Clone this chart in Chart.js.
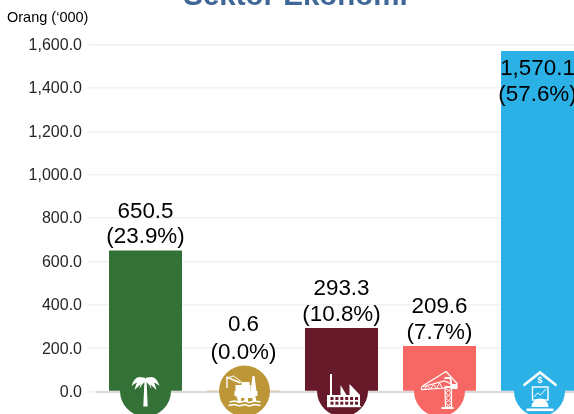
<!DOCTYPE html>
<html><head><meta charset="utf-8">
<style>html,body{margin:0;padding:0;background:#fff;overflow:hidden;width:574px;height:414px}
#w{position:relative;width:600px;height:414px}canvas{display:block}</style>
<script src="https://cdn.jsdelivr.net/npm/chart.js@4"></script></head>
<body><div id="w"><canvas id="c" width="600" height="414"></canvas></div>
<script>
const categories=["Pertanian","Perlombongan","Pembuatan","Pembinaan","Perkhidmatan"];
const values=[650.5,0.6,293.3,209.6,1570.1];
const shares=["23.9","0.0","10.8","7.7","57.6"];
const colours=["#337137","#BC9637","#671A29","#F76865","#2BB1E6"];
const badgeShift=[0,1,1,0,2];
const tickStep=200, tickMax=1600;
const titleText="Sektor Ekonomi", unitText="Orang (‘000)";
const FONT='"Liberation Sans",Arial,sans-serif';

function line(c,pts,w){c.lineWidth=w;c.beginPath();pts.forEach((p,i)=>i?c.lineTo(p[0],p[1]):c.moveTo(p[0],p[1]));c.stroke();}
function rect(c,x,y,w,h){c.fillRect(x,y,w,h);}
const icons=[
function palm(c){
  c.beginPath();c.moveTo(-1,-12);c.lineTo(1,-12);c.lineTo(2.2,15.5);c.lineTo(-2.2,15.5);c.closePath();c.fill();
  [[-14,-5,-10,-18],[-11,-1,-7,-17],[-6,-2,-3,-18],[14,-5,10,-18],[11,-1,7,-17],[6,-2,3,-18]].forEach(f=>{
    c.beginPath();c.moveTo(0,-12);c.quadraticCurveTo(f[2],f[3],f[0],f[1]);c.quadraticCurveTo(f[0]*.6,f[1]-5,0,-10);c.closePath();c.fill();});
},
function rig(c){
  rect(c,-10,0,23,5);rect(c,-8,5,19,2);rect(c,-7,7,3.5,4);rect(c,0,7,3.5,4);rect(c,8,7,3.5,4);
  rect(c,-9,-6,15,6);rect(c,-3,-9,8,3);
  c.beginPath();c.moveTo(8,-15);c.lineTo(10,-15);c.lineTo(12,0);c.lineTo(6,0);c.closePath();c.fill();
  line(c,[[-17.5,-14],[-17.5,-3]],1.4);line(c,[[-18,-14],[-4,-8]],1.5);line(c,[[-18,-13],[-11,-15],[-3,-9]],1);
  line(c,[[-15,11],[-10,10],[-5,11.5],[0,10],[5,11.5],[10,10],[16,11]],1.5);
  line(c,[[-16,14.5],[-10,13.5],[-5,15],[0,13.5],[5,15],[10,13.5],[16,14.5]],1.5);
},
function factory(c){
  rect(c,-12.5,-17,2,21);rect(c,-15.5,4,33,11);rect(c,-15.5,15,34,1.2);
  c.beginPath();c.moveTo(-15.5,4);c.lineTo(-2,4);c.lineTo(-2,-6);c.lineTo(4,4);c.lineTo(7,4);c.lineTo(7,-7);c.lineTo(17.5,4);c.closePath();c.fill();
  c.fillStyle=colours[2];for(let i=0;i<6;i++)for(let j=0;j<2;j++)rect(c,-12+i*4.9,6+j*4.7,3,3);
},
function crane(c){
  line(c,[[-18,-4],[5,-10],[12,-7]],1.2);line(c,[[-18,-4],[-18,-1.5],[6,-3]],1.2);
  line(c,[[-15,-2],[-12,-5.5],[-9,-2],[-6,-6.5],[-3,-2.5],[0,-8],[3,-3]],1);
  line(c,[[-17,-5],[6.5,-19.5],[18,-7]],1.2);
  line(c,[[5,-13],[11,-13],[12,-4],[5,-4]],1.8);
  rect(c,12,-7,6,5);
  line(c,[[5.5,-4],[6,16]],1.2);line(c,[[12,-4],[12,16]],1.2);
  for(let i=0;i<4;i++){line(c,[[6,-3+i*5],[12,2+i*5]],1);line(c,[[12,-3+i*5],[6,2+i*5]],1);}
  rect(c,2,16,12,2);
},
function house(c){
  line(c,[[-16,-5.5],[0.5,-18.5],[17,-5.5]],2.6);
  c.font='bold 9px '+FONT;c.textAlign="center";c.textBaseline="middle";c.fillText("$",0.5,-10);
  c.lineWidth=1.4;c.strokeRect(-7,-4,15.5,13);
  line(c,[[-5.5,6],[-2,2],[1,4],[6.5,-2]],1);
  c.beginPath();c.arc(0.5,16,8.5,Math.PI,0);c.fill();rect(c,-2,8,5,2);
  rect(c,-13,17.5,27,2.6);
}
];

const decorate={id:"decorate",
  beforeDraw(ch){ch.scales.y.getLabelItems(ch.chartArea).forEach(it=>{if(!it._moved){it.textOffset+=1;it._moved=1;}});},
  beforeDatasetsDraw(ch){
    const c=ch.ctx,m=ch.getDatasetMeta(0),base=ch.scales.y.getPixelForValue(0);
    m.data.forEach((b,i)=>{c.fillStyle=colours[i];c.beginPath();c.arc(b.x+badgeShift[i],base-.5,25.5,0,Math.PI*2);c.fill();});
  },
  afterDatasetsDraw(ch){
    const c=ch.ctx,m=ch.getDatasetMeta(0),base=ch.scales.y.getPixelForValue(0);
    m.data.forEach((b,i)=>{
      c.save();c.translate(b.x+badgeShift[i],base-.5);c.fillStyle="#fff";c.strokeStyle="#fff";icons[i](c);c.restore();
    });
    c.save();c.fillStyle="#000";c.textAlign="center";c.textBaseline="middle";c.font="22.4px "+FONT;
    m.data.forEach((b,i)=>{
      const inside=b.y<ch.chartArea.top+40;
      const low=values[i]<tickStep/10;
      const y2=inside?b.y+43.5:low?b.y-39:b.y-13.5;
      const gap=low?28:25.5;
      c.fillText(values[i].toLocaleString("en-US",{minimumFractionDigits:1}),b.x,y2-gap);
      c.fillText("("+shares[i]+"%)",b.x,y2);
    });
    c.textAlign="left";c.font="14.5px "+FONT;c.fillText(unitText,7,17.5);
    c.fillStyle="#3F6797";c.textAlign="center";c.textBaseline="alphabetic";c.font="bold 29.5px "+FONT;c.fillText(titleText,295.5,5);
    c.restore();
  }};

new Chart(document.getElementById("c"),{
  type:"bar",
  data:{labels:categories,datasets:[{data:values,backgroundColor:colours,barPercentage:.745,categoryPercentage:1,borderWidth:0}]},
  plugins:[decorate],
  options:{responsive:false,animation:false,
    layout:{padding:{top:44.5,bottom:22.5,right:13.5,left:0}},
    plugins:{legend:{display:false},title:{display:false},tooltip:{enabled:false}},
    scales:{
      x:{ticks:{display:false},grid:{display:false,drawTicks:false},border:{display:true,color:"#D9D9D9",width:2}},
      y:{min:0,max:tickMax,afterFit(a){a.width=96.5;},
        ticks:{stepSize:tickStep,padding:5.5,color:"#262626",font:{family:FONT,size:16},callback:v=>v.toLocaleString("en-US",{minimumFractionDigits:1})},
        grid:{color:"#F2F2F2",lineWidth:1.5,tickLength:9,tickColor:"#F2F2F2"},border:{display:false}}
    }}
});
</script></body></html>
